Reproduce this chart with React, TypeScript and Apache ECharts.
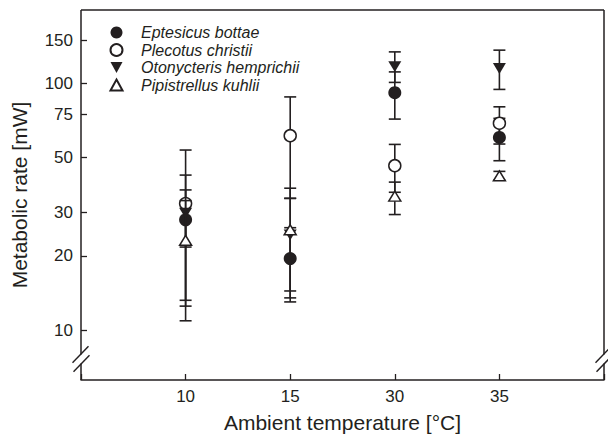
import React, { useEffect, useRef } from 'react';
import * as echarts from 'echarts';

// ---- data ----
const temperatures = ['10', '15', '30', '35'];
const speciesNames = ['Eptesicus bottae', 'Plecotus christii', 'Otonycteris hemprichii', 'Pipistrellus kuhlii'];

const eptesicusMean = [28, 19.5, 91.8, 60.4];
const eptesicusLow = [13.2, 13.0, 71.7, 48.6];
const eptesicusHigh = [42.5, 26, 111.4, 72.2];

const plecotusMean = [32.6, 61.4, 46.4, 69];
const plecotusLow = [10.9, 34.2, 36.2, 56.8];
const plecotusHigh = [53.7, 88.2, 56.6, 80.4];

const otonycterisMean = [29.8, 24.3, 117, 115];
const otonycterisLow = [21.7, 14.4, 101, 94.6];
const otonycterisHigh = [37, 34.2, 134.3, 136.5];

const pipistrellusMean = [23.1, 25.5, 34.9, 42.2];
const pipistrellusLow = [12.5, 13.5, 29.4, 40.5];
const pipistrellusHigh = [33.5, 37.6, 39.8, 44];

const yTickValues = [10, 20, 30, 50, 75, 100, 150];

// ---- layout / style ----
const W = 608;
const H = 441;
const GL = 81;
const GR = 4;
const GT = 10;
const GB = 61;
const INK = '#231f20';
const FONT = '"Liberation Sans", Arial, Helvetica, sans-serif';

const triDown = 'path://M0,0L20,0L10,18Z';
const triUp = 'path://M10,0L20,18L0,18Z';

const renderErrorBar = (params: any, api: any) => {
  const x = api.value(0);
  const lo = api.coord([x, api.value(1)]);
  const hi = api.coord([x, api.value(2)]);
  const hw = 6;
  const style = { stroke: INK, lineWidth: 1.6, fill: null };
  return {
    type: 'group',
    children: [
      { type: 'line', shape: { x1: lo[0], y1: lo[1], x2: hi[0], y2: hi[1] }, style },
      { type: 'line', shape: { x1: lo[0] - hw, y1: lo[1], x2: lo[0] + hw, y2: lo[1] }, style },
      { type: 'line', shape: { x1: hi[0] - hw, y1: hi[1], x2: hi[0] + hw, y2: hi[1] }, style },
    ],
  };
};

export default function App() {
  const ref = useRef<HTMLDivElement>(null);

  useEffect(() => {
    if (!ref.current) return;
    document.body.style.margin = '0';
    const chart = echarts.init(ref.current, null, { renderer: 'svg' });

    const groups = [
      { mean: eptesicusMean, low: eptesicusLow, high: eptesicusHigh, symbol: 'circle', size: 13, fill: INK, border: 0 },
      { mean: plecotusMean, low: plecotusLow, high: plecotusHigh, symbol: 'circle', size: 12, fill: '#ffffff', border: 1.5 },
      { mean: otonycterisMean, low: otonycterisLow, high: otonycterisHigh, symbol: triDown, size: [13, 12], fill: INK, border: 0 },
      { mean: pipistrellusMean, low: pipistrellusLow, high: pipistrellusHigh, symbol: triUp, size: [12, 11], fill: '#ffffff', border: 1.5 },
    ];

    const series: any[] = [];
    groups.forEach((g, k) => {
      series.push({
        type: 'custom',
        name: speciesNames[k] + ' SD',
        renderItem: renderErrorBar,
        encode: { x: 0, y: [1, 2] },
        data: temperatures.map((_, i) => [i + 1, g.low[i], g.high[i]]),
        z: 10 + 2 * k,
        clip: false,
        silent: true,
      });
      series.push({
        type: 'scatter',
        name: speciesNames[k],
        symbol: g.symbol,
        symbolSize: g.size,
        symbolKeepAspect: true,
        data: temperatures.map((_, i) => [i + 1, g.mean[i]]),
        itemStyle: { color: g.fill, borderColor: INK, borderWidth: g.border, opacity: 1 },
        z: 11 + 2 * k,
      });
    });

    const plotRight = W - GR;
    const plotBottom = H - GB;
    const lineStyle = { stroke: INK, lineWidth: 1.5 };
    const breakY1 = 354.5;
    const breakY2 = 363.5;
    const slash = (cx: number, cy: number) => ({
      type: 'line',
      shape: { x1: cx - 8, y1: cy + 8.3, x2: cx + 8, y2: cy - 8.3 },
      style: { stroke: INK, lineWidth: 1.4 },
    });

    const graphic: any[] = [
      { type: 'line', shape: { x1: GL, y1: GT, x2: plotRight, y2: GT }, style: lineStyle },
      { type: 'line', shape: { x1: GL, y1: GT, x2: GL, y2: breakY1 }, style: lineStyle },
      { type: 'line', shape: { x1: GL, y1: breakY2, x2: GL, y2: plotBottom }, style: lineStyle },
      { type: 'line', shape: { x1: plotRight, y1: GT, x2: plotRight, y2: breakY1 }, style: lineStyle },
      { type: 'line', shape: { x1: plotRight, y1: breakY2, x2: plotRight, y2: plotBottom }, style: lineStyle },
      slash(GL - 0.5, breakY1),
      slash(GL + 0.5, breakY2),
      slash(plotRight - 0.5, breakY1),
      slash(plotRight + 0.5, breakY2),
    ];

    chart.setOption({
      animation: false,
      backgroundColor: '#ffffff',
      textStyle: { fontFamily: FONT },
      grid: { left: GL, right: GR, top: GT, bottom: GB, containLabel: false },
      legend: {
        data: speciesNames,
        orient: 'vertical',
        left: 109.5,
        top: 24.5,
        padding: 0,
        itemWidth: 12,
        itemHeight: 12,
        itemGap: 1.5,
        selectedMode: false,
        symbolKeepAspect: true,
        textStyle: {
          fontFamily: FONT,
          fontStyle: 'italic',
          fontSize: 16,
          color: INK,
          padding: [0, 0, 0, 13.5],
        },
      },
      xAxis: {
        type: 'value',
        min: 0,
        max: 5,
        interval: 1,
        name: 'Ambient temperature [°C]',
        nameLocation: 'middle',
        nameGap: 32,
        nameTextStyle: { fontFamily: FONT, fontSize: 21, color: INK },
        axisLine: { show: true, lineStyle: { color: INK, width: 1.5 } },
        axisTick: { show: true, inside: true, length: 6, lineStyle: { color: INK, width: 1.3 } },
        axisLabel: {
          fontFamily: FONT,
          fontSize: 17,
          color: INK,
          margin: 8,
          formatter: (v: number) => (v >= 1 && v <= temperatures.length ? temperatures[v - 1] : ''),
        },
        splitLine: { show: false },
      },
      yAxis: {
        type: 'log',
        logBase: 10,
        min: 6.27,
        max: 198.6,
        name: 'Metabolic rate [mW]',
        nameLocation: 'middle',
        nameRotate: 90,
        nameGap: 51,
        nameTextStyle: { fontFamily: FONT, fontSize: 21, color: INK },
        axisLine: { show: false },
        axisTick: { show: true, inside: true, length: 6, customValues: yTickValues, lineStyle: { color: INK, width: 1.3 } },
        axisLabel: {
          fontFamily: FONT,
          fontSize: 17,
          color: INK,
          margin: 8,
          customValues: yTickValues,
          formatter: (v: number) => String(Math.round(v)),
        },
        minorTick: { show: false },
        splitLine: { show: false },
      },
      graphic,
      series,
    });

    return () => chart.dispose();
  }, []);

  return <div ref={ref} style={{ width: W, height: H }} />;
}
